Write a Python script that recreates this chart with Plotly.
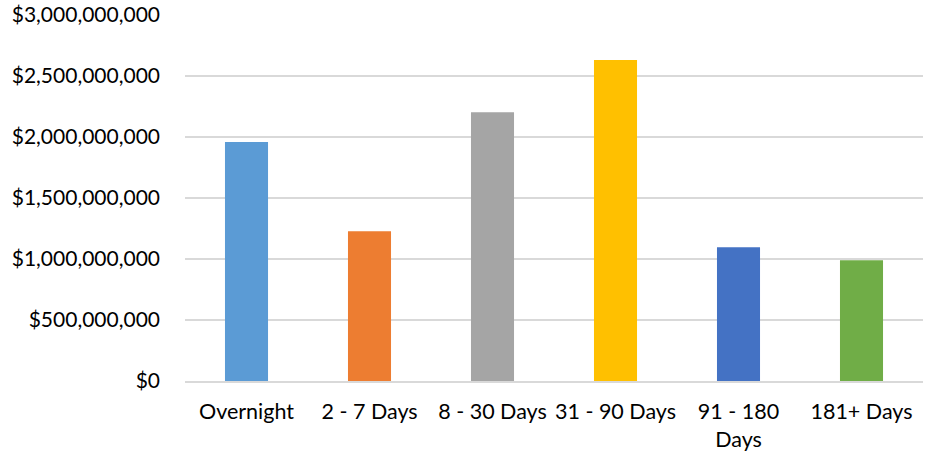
import plotly.graph_objects as go

categories = ["Overnight", "2 - 7 Days", "8 - 30 Days", "31 - 90 Days", "91 - 180<br>Days", "181+ Days"]
values = [1959000000, 1227000000, 2202000000, 2631000000, 1096000000, 989000000]
colors = ["#5B9BD5", "#ED7D31", "#A5A5A5", "#FFC000", "#4472C4", "#70AD47"]
y_ticks = [0, 500000000, 1000000000, 1500000000, 2000000000, 2500000000, 3000000000]
y_tick_labels = ["$0", "$500,000,000", "$1,000,000,000", "$1,500,000,000",
                 "$2,000,000,000", "$2,500,000,000", "$3,000,000,000"]

fig = go.Figure(go.Bar(x=categories, y=values, marker=dict(color=colors, line=dict(width=0)),
                       hoverinfo="skip"))

fig.update_layout(
    width=931, height=457,
    margin=dict(l=185, r=8, t=15, b=76),
    plot_bgcolor="white", paper_bgcolor="white",
    bargap=0.65,
    showlegend=False,
    font=dict(family="Lato, sans-serif", size=21, color="#000000"),
)
fig.update_xaxes(
    showgrid=False, showline=True, linecolor="#d9d9d9", linewidth=1.5,
    ticks="", ticklabelstandoff=11, automargin=False,
    tickfont=dict(family="Lato, sans-serif", size=21.5),
)
fig.update_yaxes(
    range=[0, 3000000000], tickvals=y_ticks, ticktext=y_tick_labels,
    showgrid=True, gridcolor="#d9d9d9", gridwidth=1.5, zeroline=False,
    showline=False, ticks="", ticklabelstandoff=24, automargin=False,
    tickfont=dict(family="Lato, sans-serif", size=21),
)

fig.write_html("out.html", config={"displayModeBar": False, "staticPlot": True},
               post_script="document.body.style.margin='0';document.body.style.overflow='hidden';")
